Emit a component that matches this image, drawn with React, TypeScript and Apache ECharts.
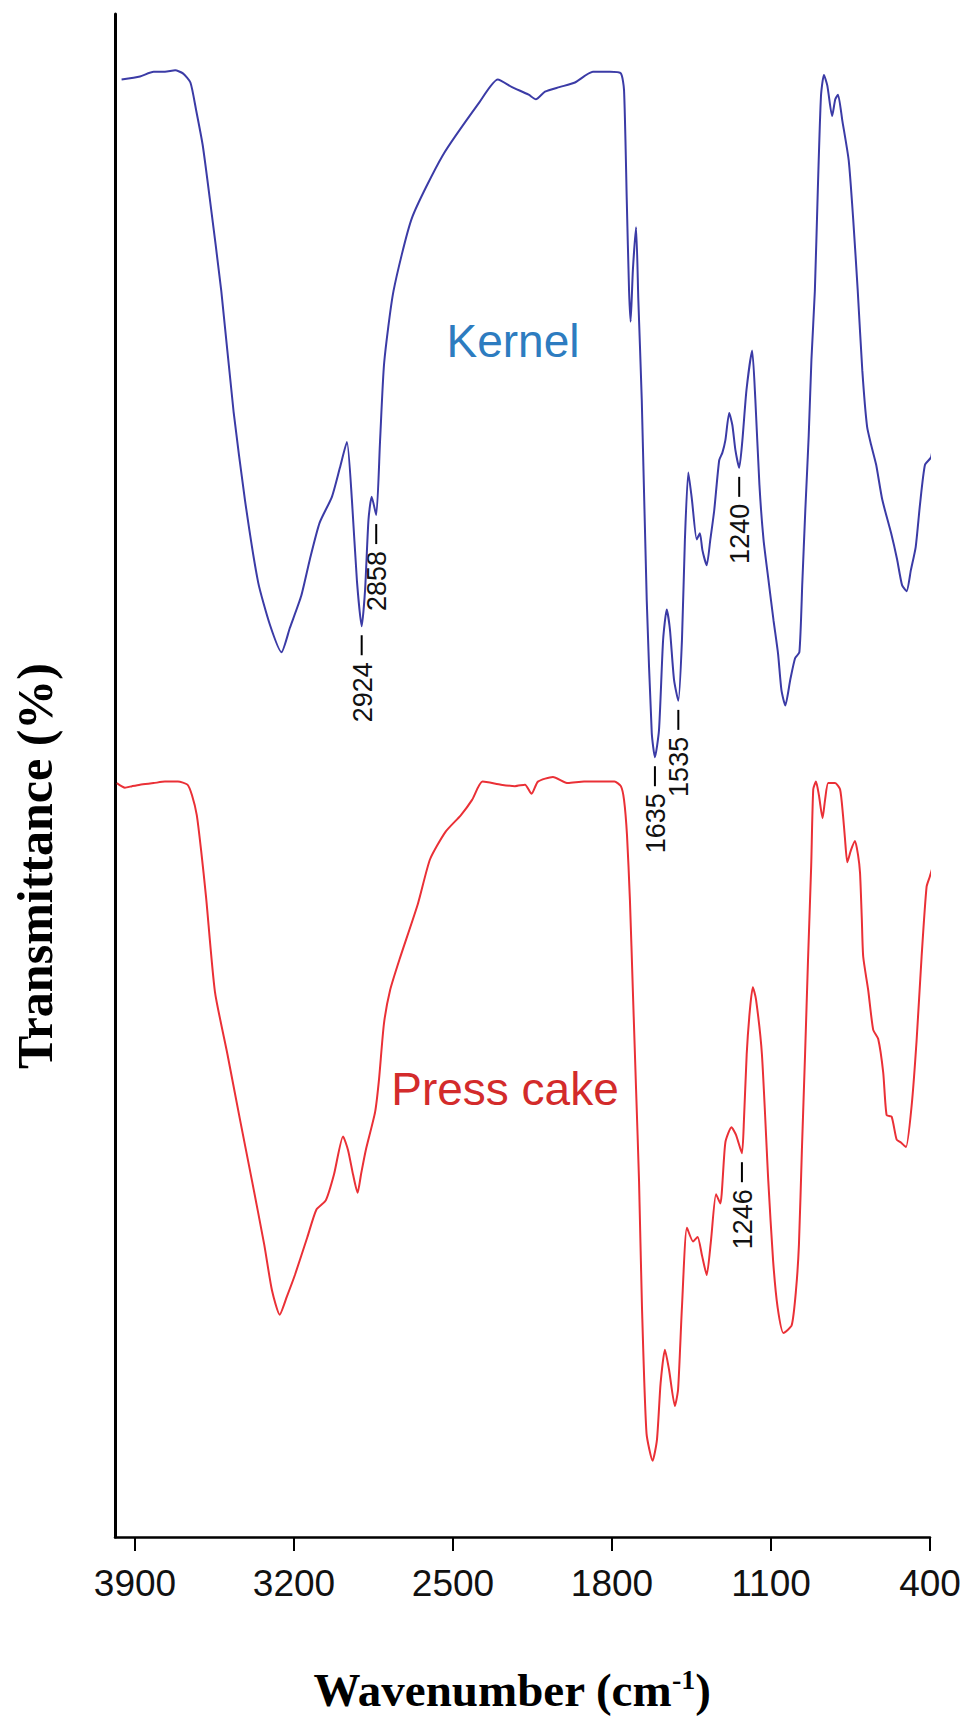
import React, { useEffect, useRef } from "react";
import * as echarts from "echarts";

// Tick labels of the wavenumber axis (cm-1)
const wavenumberTicks = [400, 1100, 1800, 2500, 3200, 3900];

// Kernel spectrum (blue)
const kernelWavenumber = [
  3959, 3878, 3818, 3768, 3723, 3689, 3656, 3631, 3602, 3570,
  3520, 3466, 3416, 3358, 3306, 3255, 3218, 3168, 3130, 3087,
  3033, 2998, 2967, 2945, 2923, 2902, 2887, 2872, 2858, 2838,
  2821, 2803, 2762, 2681, 2546, 2384, 2303, 2240, 2167, 2135,
  2095, 2032, 1963, 1884, 1809, 1761, 1747, 1735, 1725, 1718,
  1708, 1694, 1684, 1669, 1647, 1625, 1611, 1593, 1575, 1559,
  1545, 1527, 1508, 1492, 1479, 1464, 1448, 1427, 1413, 1402,
  1383, 1367, 1350, 1328, 1314, 1301, 1284, 1270, 1257, 1240,
  1226, 1208, 1183, 1169, 1151, 1133, 1110, 1089, 1069, 1054,
  1037, 1015, 994, 975, 962, 949, 934, 922, 907, 894,
  880, 867, 852, 831, 817, 805, 786, 758, 738, 718,
  698, 677, 659, 637, 610, 571, 545, 523, 503, 484,
  463, 444, 422, 395, 385, 376,
];
const kernelTransmittance = [
  95.7, 95.9, 96.2, 96.2, 96.3, 96.1, 95.5, 93.7, 91.4, 87.8,
  81.8, 73.9, 68.1, 62.7, 59.9, 58.1, 59.7, 61.8, 64.2, 66.6,
  68.3, 70.2, 71.9, 68.1, 62.8, 59.8, 62.2, 66.8, 68.3, 67.1,
  72.0, 77.1, 81.8, 86.6, 90.7, 94.2, 95.7, 95.2, 94.7, 94.4,
  94.9, 95.2, 95.5, 96.2, 96.2, 96.1, 95.0, 87.8, 81.9, 79.8,
  83.2, 86.0, 81.2, 74.7, 61.5, 52.8, 51.2, 53.0, 58.9, 60.9,
  59.6, 56.3, 54.9, 58.9, 65.5, 69.9, 68.1, 65.5, 65.9, 64.8,
  63.8, 65.5, 67.4, 70.7, 71.2, 72.0, 73.8, 73.0, 71.4, 70.2,
  72.0, 75.3, 77.9, 74.7, 69.1, 65.5, 62.7, 60.2, 58.0, 55.6,
  54.6, 56.3, 57.7, 58.1, 62.7, 67.4, 72.3, 77.3, 81.8, 88.4,
  94.6, 96.0, 95.3, 93.3, 94.4, 94.7, 93.0, 90.4, 86.5, 81.8,
  76.6, 72.9, 71.7, 70.4, 68.1, 65.9, 64.2, 62.5, 62.1, 63.5,
  65.0, 67.8, 70.4, 70.9, 72.0, 73.3,
];

// Press cake spectrum (red)
const pressCakeWavenumber = [
  3980, 3944, 3913, 3878, 3818, 3768, 3711, 3669, 3649, 3628,
  3609, 3587, 3548, 3493, 3439, 3385, 3331, 3297, 3263, 3231,
  3196, 3141, 3101, 3060, 3024, 2984, 2962, 2940, 2920, 2905,
  2884, 2843, 2826, 2804, 2777, 2736, 2654, 2601, 2533, 2465,
  2416, 2370, 2289, 2227, 2183, 2154, 2126, 2060, 1994, 1923,
  1853, 1789, 1761, 1747, 1734, 1721, 1708, 1694, 1681, 1668,
  1648, 1621, 1602, 1586, 1567, 1549, 1523, 1509, 1492, 1470,
  1443, 1423, 1404, 1383, 1364, 1342, 1323, 1301, 1274, 1254,
  1228, 1219, 1207, 1193, 1180, 1166, 1140, 1112, 1091, 1071,
  1045, 1009, 990, 977, 964, 950, 937, 923, 914, 902,
  889, 873, 862, 848, 818, 796, 783, 774, 764, 748,
  730, 717, 708, 700, 694, 672, 650, 628, 606, 591,
  569, 547, 528, 506, 481, 459, 437, 415, 400, 386, 382,
];
const pressCakeTransmittance = [
  49.5, 49.2, 49.3, 49.4, 49.5, 49.6, 49.6, 49.4, 48.7, 47.4,
  45.1, 42.0, 35.8, 31.7, 27.5, 23.4, 19.2, 16.2, 14.6, 15.8,
  17.2, 19.7, 21.5, 22.1, 23.8, 26.3, 25.4, 23.8, 22.6, 23.8,
  25.4, 27.9, 30.0, 33.7, 35.9, 37.9, 41.6, 44.5, 46.3, 47.4,
  48.4, 49.6, 49.4, 49.3, 49.4, 48.8, 49.6, 49.9, 49.5, 49.6,
  49.6, 49.6, 49.3, 48.4, 46.1, 41.8, 35.8, 29.4, 23.4, 15.1,
  6.8, 5.0, 6.4, 10.1, 12.3, 11.0, 8.6, 9.7, 15.1, 20.3,
  19.4, 19.7, 18.5, 17.2, 19.5, 22.5, 21.9, 25.9, 26.9, 26.4,
  25.2, 27.4, 31.7, 34.6, 36.1, 35.3, 31.7, 23.4, 18.2, 15.1,
  13.4, 13.9, 16.2, 19.2, 25.4, 31.7, 37.9, 44.1, 49.1, 49.6,
  48.7, 47.2, 48.4, 49.5, 49.5, 49.1, 47.4, 45.8, 44.3, 45.1,
  45.7, 44.8, 43.6, 40.5, 38.1, 35.9, 33.3, 32.7, 30.5, 27.7,
  27.6, 26.1, 25.9, 25.6, 28.3, 32.6, 38.1, 42.7, 43.4, 44.2, 46.0,
];

// Peak annotations (label, anchor wavenumber, anchor transmittance)
const peakLabels = ["2924", "2858", "1635", "1535", "1240", "1246"];
const peakWavenumber = [2902, 2838, 1611, 1508, 1240, 1228];
const peakTransmittance = [59.8, 67.1, 51.2, 54.9, 70.2, 25.2];

// Sample names and where they sit in data space
const sampleNames = ["Kernel", "Press cake"];
const sampleNameWavenumber = [2236, 2271];
const sampleNameTransmittance = [78.5, 29.4];
const sampleNameColors = ["#2d7cc0", "#d32b2b"];

const KERNEL_COLOR = "#3b3ba6";
const PRESS_COLOR = "#ea3036";

function zip(xs: number[], ys: number[]) {
  return xs.map((x, i) => [x, ys[i]]);
}

export default function App() {
  const ref = useRef<HTMLDivElement>(null);

  useEffect(() => {
    const el = ref.current as HTMLDivElement;
    const chart = echarts.init(el, null, { renderer: "svg" });
    const option: any = {
      animation: false,
      backgroundColor: "#ffffff",
      grid: { left: 115, right: 34, top: 14, bottom: 191, containLabel: false },
      xAxis: {
        type: "value",
        inverse: true,
        min: 400,
        max: 3988,
        axisLine: { show: true, onZero: false, lineStyle: { color: "#000", width: 2.5 } },
        axisTick: {
          show: true,
          length: 14,
          customValues: wavenumberTicks,
          lineStyle: { color: "#000", width: 2 },
        },
        axisLabel: {
          customValues: wavenumberTicks,
          formatter: (v: number) => String(v),
          margin: 28,
          fontSize: 37,
          color: "#111",
          fontFamily: "'Liberation Sans', Arial, sans-serif",
        },
        splitLine: { show: false },
      },
      yAxis: {
        type: "value",
        min: 0,
        max: 100,
        axisLine: { show: true, onZero: false, lineStyle: { color: "#000", width: 3 } },
        axisTick: { show: false },
        axisLabel: { show: false },
        splitLine: { show: false },
      },
      series: [
        {
          name: "Kernel",
          type: "line",
          data: zip(kernelWavenumber, kernelTransmittance),
          showSymbol: false,
          clip: false,
          smooth: 0.2,
          lineStyle: { color: KERNEL_COLOR, width: 2 },
        },
        {
          name: "Press cake",
          type: "line",
          data: zip(pressCakeWavenumber, pressCakeTransmittance),
          showSymbol: false,
          clip: false,
          smooth: 0.2,
          lineStyle: { color: PRESS_COLOR, width: 2 },
        },
      ],
    };
    chart.setOption(option);

    const toPx = (wn: number, t: number) =>
      chart.convertToPixel({ xAxisIndex: 0, yAxisIndex: 0 }, [wn, t]) as number[];

    const graphics: any[] = [];
    peakLabels.forEach((label, i) => {
      const [px, py] = toPx(peakWavenumber[i], peakTransmittance[i]);
      graphics.push({
        type: "line",
        shape: { x1: px, y1: py + 9, x2: px, y2: py + 29 },
        style: { stroke: "#000", lineWidth: 2 },
      });
      graphics.push({
        type: "text",
        x: px + 1,
        y: py + 66,
        rotation: Math.PI / 2,
        style: {
          text: label,
          fontSize: 27,
          fontFamily: "'Liberation Sans', Arial, sans-serif",
          fill: "#111",
          align: "center",
          verticalAlign: "middle",
          textAlign: "center",
          textVerticalAlign: "middle",
        },
      });
    });
    sampleNames.forEach((name, i) => {
      const [px, py] = toPx(sampleNameWavenumber[i], sampleNameTransmittance[i]);
      graphics.push({
        type: "text",
        x: px,
        y: py,
        style: {
          text: name,
          fontSize: 46,
          fontFamily: "'Liberation Sans', Arial, sans-serif",
          fill: sampleNameColors[i],
          align: "center",
          verticalAlign: "middle",
          textAlign: "center",
          textVerticalAlign: "middle",
        },
      });
    });
    graphics.push({
      type: "text",
      x: 35,
      y: 866,
      rotation: Math.PI / 2,
      style: {
        text: "Transmittance (%)",
        fontSize: 50,
        fontWeight: "bold",
        fontFamily: "'Liberation Serif', 'Times New Roman', serif",
        fill: "#000",
        align: "center",
        verticalAlign: "middle",
        textAlign: "center",
        textVerticalAlign: "middle",
      },
    });
    graphics.push({
      type: "text",
      x: 512,
      y: 1690,
      style: {
        text: "{b|Wavenumber (cm}{s|-1}{b|)}",
        fill: "#000",
        align: "center",
        verticalAlign: "middle",
        textAlign: "center",
        textVerticalAlign: "middle",
        rich: {
          b: {
            fontSize: 47,
            fontWeight: "bold",
            fontFamily: "'Liberation Serif', 'Times New Roman', serif",
            fill: "#000",
            color: "#000",
            lineHeight: 50,
          },
          s: {
            fontSize: 28,
            fontWeight: "bold",
            fontFamily: "'Liberation Serif', 'Times New Roman', serif",
            fill: "#000",
            color: "#000",
            verticalAlign: "top",
            lineHeight: 50,
          },
        },
      },
    });
    chart.setOption({ graphic: graphics });

    return () => {
      chart.dispose();
    };
  }, []);

  return (
    <div
      ref={ref}
      style={{ position: "absolute", left: 0, top: 0, width: 964, height: 1728 }}
    />
  );
}
